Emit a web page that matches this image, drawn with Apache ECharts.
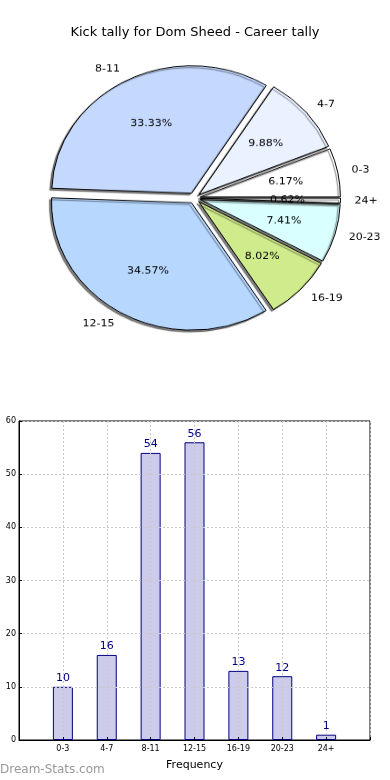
<!DOCTYPE html>
<html>
<head>
<meta charset="utf-8">
<script src="https://cdn.jsdelivr.net/npm/echarts@6/dist/echarts.min.js"></script>
<style>
html,body{margin:0;padding:0;background:#fff;}
#main{position:absolute;left:0;top:0;width:390px;height:780px;}
#pie{position:absolute;left:0;top:0;width:390px;height:400px;transform:scaleY(0.91);transform-origin:50% 198px;}
</style>
</head>
<body>
<div id="main"></div>
<div id="pie"></div>
<script>
const categories = ['0-3', '4-7', '8-11', '12-15', '16-19', '20-23', '24+'];
const counts = [10, 16, 54, 56, 13, 12, 1];
const sliceColors = ['#ffffff', '#eaf1ff', '#c5d9ff', '#b7d7ff', '#d0eb8c', '#d9ffff', '#ffffff'];
const yTicks = [0, 10, 20, 30, 40, 50, 60];
const titleText = 'Kick tally for Dom Sheed - Career tally';
const FONT = 'DejaVu Sans';

const total = counts.reduce((a, b) => a + b, 0);
const barData = categories.map((c, i) => [i + 1, counts[i]]);

const main = echarts.init(document.getElementById('main'), null, {renderer: 'canvas'});
main.setOption({
  animation: false,
  backgroundColor: '#fff',
  title: {
    text: titleText, left: 'center', top: 21,
    textStyle: {fontFamily: FONT, fontSize: 13, fontWeight: 'normal', color: '#000'}
  },
  grid: {left: 19, top: 421, width: 351, height: 319, show: true, borderColor: '#000', borderWidth: 1, containLabel: false},
  xAxis: {
    type: 'value', min: 0, max: 8, interval: 1, z: 5,
    axisLine: {show: true, lineStyle: {color: '#000'}},
    axisTick: {show: true, inside: true, length: 3, lineStyle: {color: '#000'}},
    axisLabel: {fontFamily: FONT, fontSize: 8, color: '#000', margin: 5,
      formatter: v => categories[v - 1] || ''},
    splitLine: {show: true, lineStyle: {color: '#c8c8c8', type: [2, 2], width: 1}},
    name: 'Frequency', nameLocation: 'middle', nameGap: 20,
    nameTextStyle: {fontFamily: FONT, fontSize: 11, color: '#000'}
  },
  yAxis: {
    type: 'value', min: yTicks[0], max: yTicks[yTicks.length - 1], interval: 10, z: 5,
    axisLine: {show: true, lineStyle: {color: '#000'}},
    axisTick: {show: true, inside: true, length: 3, lineStyle: {color: '#000'}},
    axisLabel: {fontFamily: FONT, fontSize: 8, color: '#000', margin: 3},
    splitLine: {show: true, lineStyle: {color: '#c8c8c8', type: [2, 2], width: 1}}
  },
  series: [{
    type: 'bar', barWidth: 20, z: 2,
    data: barData,
    itemStyle: {color: '#ccccea', borderColor: '#000080', borderWidth: 1}
  }, {
    type: 'bar', barWidth: 20, z: 10, barGap: '-100%',
    data: barData,
    itemStyle: {color: 'rgba(0,0,0,0)', borderWidth: 0},
    label: {show: true, position: 'top', distance: 3, color: '#000080', fontFamily: FONT, fontSize: 11,
      formatter: p => p.value[1]}
  }],
  graphic: [{
    type: 'text', left: 0, top: 764, z: 20,
    style: {text: 'Dream-Stats.com', fill: '#999999', font: '12px "DejaVu Sans"'}
  }]
});

const pie = echarts.init(document.getElementById('pie'), null, {renderer: 'canvas'});
const R = 140;
pie.setOption({
  animation: false,
  series: [{
    type: 'pie', center: [194.5, 198], radius: R, startAngle: 0, clockwise: false,
    selectedMode: 'multiple', selectedOffset: 6, avoidLabelOverlap: false, silent: true,
    data: categories.map((c, i) => ({name: c, value: counts[i], selected: true, itemStyle: {color: sliceColors[i]}})),
    itemStyle: {borderColor: '#000', borderWidth: 1, shadowColor: 'rgba(0,0,0,0.5)', shadowBlur: 1, shadowOffsetX: -2, shadowOffsetY: 2},
    label: {show: true, position: 'outside', formatter: '{b}', fontFamily: FONT, fontSize: 11, color: '#000', distanceToLabelLine: 0, padding: [4, 0, 0, 0]},
    labelLine: {show: false, length: 14, length2: 0},
    emphasis: {disabled: true}
  }, {
    type: 'pie', center: [194.5, 198], radius: R * 1.2, startAngle: 0, clockwise: false,
    selectedMode: 'multiple', selectedOffset: 6, avoidLabelOverlap: false, silent: true,
    data: categories.map((c, i) => ({name: c, value: counts[i], selected: true})),
    itemStyle: {color: 'rgba(0,0,0,0)', borderWidth: 0},
    label: {show: true, position: 'inside', fontFamily: FONT, fontSize: 11, color: '#000', padding: [4, 0, 0, 0],
      formatter: p => (p.value / total * 100).toFixed(2) + '%'},
    labelLine: {show: false},
    emphasis: {disabled: true}
  }]
});
</script>
</body>
</html>
